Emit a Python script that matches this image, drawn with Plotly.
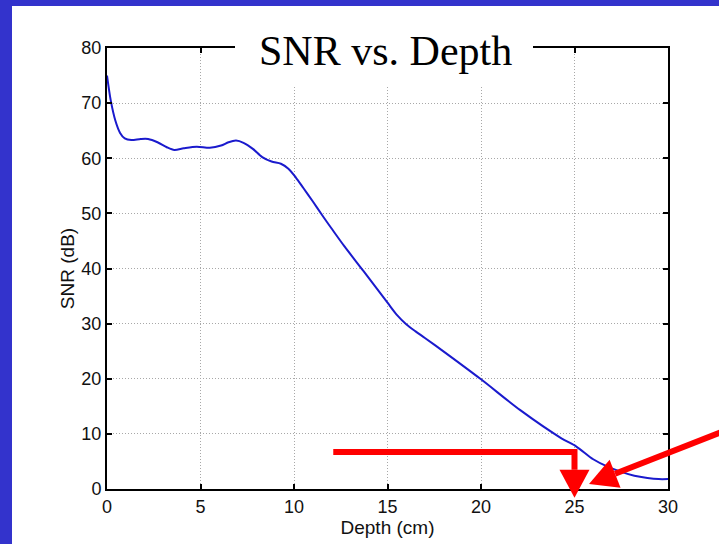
import plotly.graph_objects as go

# Measured SNR along depth
depth_cm = [0, 0.2, 0.45, 0.7, 0.95, 1.3, 1.8, 2.2, 2.7, 3.2, 3.6, 4.1, 4.8, 5.5,
            6.1, 6.5, 6.9, 7.3, 7.8, 8.3, 8.8, 9.3, 9.7, 10.1, 10.5, 11.0, 11.5,
            12.0, 12.7, 13.7, 15.0, 15.5, 16.0, 16.5, 17.0, 17.9, 20.0, 22.1,
            24.3, 25.1, 26.0, 26.8, 27.5, 28.2, 28.9, 29.5, 30]
snr_db = [75, 70.5, 66.8, 64.6, 63.6, 63.3, 63.5, 63.5, 62.9, 62.0, 61.5, 61.8,
          62.1, 61.9, 62.3, 62.9, 63.2, 62.8, 61.7, 60.2, 59.4, 59.0, 58.1, 56.5,
          54.6, 52.2, 49.7, 47.3, 44.0, 39.6, 33.8, 31.6, 29.9, 28.6, 27.4, 25.2,
          19.9, 14.3, 9.2, 7.7, 5.4, 4.0, 3.1, 2.4, 2.0, 1.8, 1.8]

x_ticks = [0, 5, 10, 15, 20, 25, 30]
y_ticks = [0, 10, 20, 30, 40, 50, 60, 70, 80]
x_range = [0, 30]
y_range = [0, 80]

title_text = "SNR vs. Depth"
x_title = "Depth (cm)"
y_title = "SNR (dB)"

# Canvas geometry (pixels)
W, H = 719, 544
ML, MR, MT, MB = 107, 51, 48, 55
PW, PH = W - ML - MR, H - MT - MB

BLUE = "#3333cc"
RED = "#ff0000"
SANS = "Liberation Sans, Arial, sans-serif"


def px_to_paper(px, py):
    return (px - ML) / PW, (H - MB - py) / PH


def data_to_px(d, s):
    px = ML + (d - x_range[0]) / (x_range[1] - x_range[0]) * PW
    py = H - MB - (s - y_range[0]) / (y_range[1] - y_range[0]) * PH
    return px, py


def poly_path(points_px, close=False):
    pts = [px_to_paper(x, y) for x, y in points_px]
    d = "M " + " L ".join(f"{x:.5f},{y:.5f}" for x, y in pts)
    return d + (" Z" if close else "")


def arrow_head(tip, tail, length=28, width=30):
    tx, ty = tip
    vx, vy = tail[0] - tx, tail[1] - ty
    n = (vx * vx + vy * vy) ** 0.5
    ux, uy = vx / n, vy / n
    bx, by = tx + ux * length, ty + uy * length
    px_, py_ = -uy, ux
    h = width / 2
    tri = [(tx, ty), (bx + px_ * h, by + py_ * h), (bx - px_ * h, by - py_ * h)]
    return tri, (bx, by)


shapes = []
# page frame: blue strips on the left and top
shapes.append(dict(type="rect", xref="paper", yref="paper", layer="below",
                   x0=px_to_paper(0, 0)[0], x1=px_to_paper(12, 0)[0],
                   y0=px_to_paper(0, H)[1], y1=px_to_paper(0, 0)[1],
                   fillcolor=BLUE, line=dict(width=0)))
shapes.append(dict(type="rect", xref="paper", yref="paper", layer="below",
                   x0=px_to_paper(0, 0)[0], x1=px_to_paper(W, 0)[0],
                   y0=px_to_paper(0, 6)[1], y1=px_to_paper(0, 0)[1],
                   fillcolor=BLUE, line=dict(width=0)))
# white panel behind the title
bx0, by0 = px_to_paper(235, 86)
bx1, by1 = px_to_paper(533, 12)
shapes.append(dict(type="rect", xref="paper", yref="paper", layer="above",
                   x0=bx0, x1=bx1, y0=by0, y1=by1,
                   fillcolor="white", line=dict(width=0)))

# elbow arrow pointing down at 25 cm
elbow_start = data_to_px(12.1, 6.7)
elbow_corner = data_to_px(25, 6.7)
elbow_tip = data_to_px(25, -1.6)
tri1, base1 = arrow_head(elbow_tip, elbow_corner)
shapes.append(dict(type="path", xref="paper", yref="paper", layer="above",
                   path=poly_path([elbow_start, elbow_corner, base1]),
                   line=dict(color=RED, width=6)))
shapes.append(dict(type="path", xref="paper", yref="paper", layer="above",
                   path=poly_path(tri1, close=True),
                   fillcolor=RED, line=dict(width=0)))

# diagonal arrow coming in from the right edge
diag_tail = (725, 430.7)
diag_tip = (589, 484)
tri2, base2 = arrow_head(diag_tip, diag_tail)
shapes.append(dict(type="path", xref="paper", yref="paper", layer="above",
                   path=poly_path([diag_tail, base2]),
                   line=dict(color=RED, width=6)))
shapes.append(dict(type="path", xref="paper", yref="paper", layer="above",
                   path=poly_path(tri2, close=True),
                   fillcolor=RED, line=dict(width=0)))

fig = go.Figure()
fig.add_trace(go.Scatter(
    x=depth_cm, y=snr_db, mode="lines",
    line=dict(color="#1a1acd", width=2, shape="spline", smoothing=0.8),
    hoverinfo="skip", showlegend=False,
))

axis_common = dict(
    showline=True, linecolor="black", linewidth=2, mirror="allticks",
    ticks="inside", ticklen=5, tickwidth=1.5, tickcolor="black",
    showgrid=True, gridcolor="#a8a8a8", griddash="1px,2px", gridwidth=1,
    zeroline=False,
    tickfont=dict(family=SANS, size=18, color="#111"),
)

fig.update_xaxes(range=x_range, tickvals=x_ticks, ticktext=[str(v) for v in x_ticks],
                 title=dict(text=x_title, standoff=3,
                            font=dict(family=SANS, size=19, color="#111")),
                 **axis_common)
fig.update_yaxes(range=y_range, tickvals=y_ticks, ticktext=[str(v) for v in y_ticks],
                 title=dict(text=y_title, standoff=2,
                            font=dict(family=SANS, size=19, color="#111")),
                 **axis_common)

tx, ty = px_to_paper(385, 51)
fig.update_layout(
    width=W, height=H,
    margin=dict(l=ML, r=MR, t=MT, b=MB, pad=0),
    paper_bgcolor="white", plot_bgcolor="white",
    shapes=shapes,
    annotations=[dict(text=title_text, xref="paper", yref="paper", x=tx, y=ty,
                      xanchor="center", yanchor="middle", showarrow=False,
                      font=dict(family="Liberation Serif, Times New Roman, serif", size=42, color="black"))],
)

fig.write_html("out.html")
